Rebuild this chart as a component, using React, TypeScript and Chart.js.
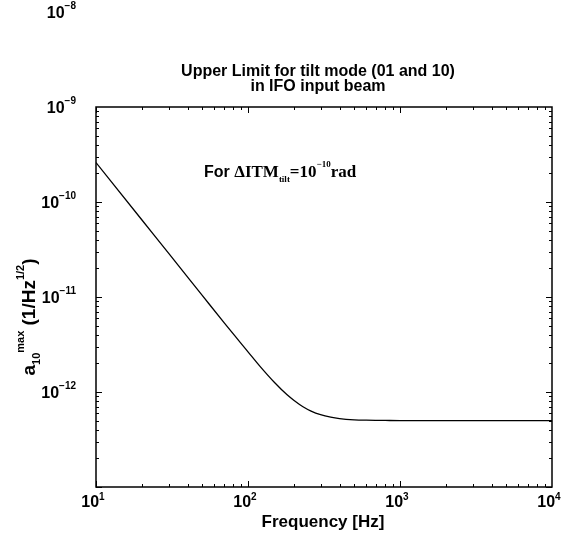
import React, { useEffect, useRef } from 'react';
import { Chart, registerables } from 'chart.js';

Chart.register(...registerables);

// ---- data ----
const frequencyHz = [10, 20, 30, 50, 70, 100, 120, 150, 180, 200, 230, 260, 300, 350, 400, 500, 600, 800, 1000, 2000, 5000, 10000];
const amplitudeMax = [2.6e-10, 6.5e-11, 2.9e-11, 1.04e-11, 5.3e-12, 2.65e-12, 1.86e-12, 1.25e-12, 9.4e-13, 8.2e-13, 7.0e-13, 6.3e-13, 5.77e-13, 5.43e-13, 5.25e-13, 5.1e-13, 5.05e-13, 5.02e-13, 5.0e-13, 5.0e-13, 5.0e-13, 5.0e-13];
const xTickExponents = [1, 2, 3, 4];
const yTickExponents = [-8, -9, -10, -11, -12];
const titleLines = ['Upper Limit for tilt mode (01 and 10)', 'in IFO input beam'];
const xAxisTitle = 'Frequency [Hz]';

const SANS = '"Liberation Sans", Arial, sans-serif';
const SERIF = '"Liberation Serif", "Times New Roman", serif';

type Part = { t: string; f: string; dy?: number };

function richWidth(ctx: CanvasRenderingContext2D, parts: Part[]) {
  let w = 0;
  for (const p of parts) {
    ctx.font = p.f;
    w += ctx.measureText(p.t).width;
  }
  return w;
}

function drawRich(ctx: CanvasRenderingContext2D, parts: Part[], x: number, y: number) {
  let cx = x;
  for (const p of parts) {
    ctx.font = p.f;
    ctx.fillText(p.t, cx, y + (p.dy || 0));
    cx += ctx.measureText(p.t).width;
  }
}

const overlayPlugin = {
  id: 'overlay',
  afterDraw(chart: any) {
    const { ctx, chartArea: a } = chart;
    const xs = chart.scales.x;
    const ys = chart.scales.y;
    ctx.save();
    ctx.fillStyle = '#000';
    ctx.strokeStyle = '#000';
    ctx.textAlign = 'left';
    ctx.textBaseline = 'alphabetic';

    // frame
    ctx.lineWidth = 1.5;
    ctx.strokeRect(a.left, a.top, a.right - a.left, a.bottom - a.top);

    // inward ticks
    ctx.lineWidth = 1;
    ctx.beginPath();
    for (let d = 1; d <= 3; d++) {
      for (let m = 1; m <= 9; m++) {
        const v = m * Math.pow(10, d);
        const px = Math.round(xs.getPixelForValue(v)) + 0.5;
        const len = m === 1 ? 6 : 3;
        ctx.moveTo(px, a.bottom);
        ctx.lineTo(px, a.bottom - len);
        ctx.moveTo(px, a.top);
        ctx.lineTo(px, a.top + len);
      }
    }
    for (let d = -13; d <= -10; d++) {
      for (let m = 1; m <= 9; m++) {
        const v = m * Math.pow(10, d);
        const py = Math.round(ys.getPixelForValue(v)) + 0.5;
        const len = m === 1 ? 6 : 3;
        ctx.moveTo(a.left, py);
        ctx.lineTo(a.left + len, py);
        ctx.moveTo(a.right, py);
        ctx.lineTo(a.right - len, py);
      }
    }
    ctx.stroke();

    // y tick labels
    for (const e of yTickExponents) {
      const py = ys.getPixelForValue(Math.pow(10, e));
      const parts: Part[] = [
        { t: '10', f: `bold 16px ${SANS}` },
        { t: `\u2212${-e}`, f: `bold 10px ${SANS}`, dy: -9 },
      ];
      const w = richWidth(ctx, parts);
      drawRich(ctx, parts, 76 - w, py + 6);
    }

    // x tick labels
    for (const e of xTickExponents) {
      const px = xs.getPixelForValue(Math.pow(10, e));
      const parts: Part[] = [
        { t: '10', f: `bold 16px ${SANS}` },
        { t: String(e), f: `bold 10px ${SANS}`, dy: -7 },
      ];
      const w = richWidth(ctx, parts);
      drawRich(ctx, parts, px - 3 - w / 2, a.bottom + 20);
    }

    // title
    ctx.textAlign = 'center';
    ctx.font = `bold 16px ${SANS}`;
    ctx.fillText(titleLines[0], 318, 76);
    ctx.fillText(titleLines[1], 318, 91);

    // x axis title
    ctx.font = `bold 17px ${SANS}`;
    ctx.fillText(xAxisTitle, 323, 527);
    ctx.textAlign = 'left';

    // y axis title (rotated)
    const yParts: Part[] = [
      { t: 'a', f: `bold 19px ${SANS}` },
      { t: '10', f: `bold 11px ${SANS}`, dy: 5 },
      { t: 'max', f: `bold 11px ${SANS}`, dy: -11 },
      { t: ' (1/Hz', f: `bold 19px ${SANS}` },
      { t: '1/2', f: `bold 11px ${SANS}`, dy: -11 },
      { t: ')', f: `bold 19px ${SANS}` },
    ];
    const yw = richWidth(ctx, yParts);
    ctx.save();
    ctx.translate(35, 317);
    ctx.rotate(-Math.PI / 2);
    drawRich(ctx, yParts, -yw / 2, 0);
    ctx.restore();

    // annotation
    const annParts: Part[] = [
      { t: 'For ', f: `bold 16px ${SANS}` },
      { t: '\u0394ITM', f: `bold 17px ${SERIF}` },
      { t: 'tilt', f: `bold 9px ${SERIF}`, dy: 5 },
      { t: '=10', f: `bold 17px ${SERIF}` },
      { t: '\u221210', f: `bold 9px ${SERIF}`, dy: -10 },
      { t: 'rad', f: `bold 17px ${SERIF}` },
    ];
    drawRich(ctx, annParts, a.left + 108, a.top + 70);

    ctx.restore();
  },
};

export default function App() {
  const ref = useRef<HTMLCanvasElement | null>(null);
  useEffect(() => {
    if (!ref.current) return;
    const chart = new Chart(ref.current, {
      type: 'line',
      data: {
        datasets: [
          {
            data: frequencyHz.map((f, i) => ({ x: f, y: amplitudeMax[i] })),
            borderColor: '#000',
            borderWidth: 1.3,
            pointRadius: 0,
            cubicInterpolationMode: 'monotone',
            fill: false,
          },
        ],
      },
      options: {
        animation: false,
        responsive: false,
        devicePixelRatio: 1,
        layout: { padding: { left: 96, right: 11, top: 107, bottom: 56 } },
        plugins: { legend: { display: false }, tooltip: { enabled: false }, title: { display: false } },
        scales: {
          x: { type: 'logarithmic', min: 10, max: 10000, display: false },
          y: { type: 'logarithmic', min: 1e-13, max: 1e-9, display: false },
        },
      },
      plugins: [overlayPlugin],
    } as any);
    return () => chart.destroy();
  }, []);
  return (
    <div style={{ position: 'absolute', left: 0, top: 0, width: 563, height: 543, background: '#fff' }}>
      <canvas ref={ref} width={563} height={543} style={{ display: 'block' }} />
    </div>
  );
}
